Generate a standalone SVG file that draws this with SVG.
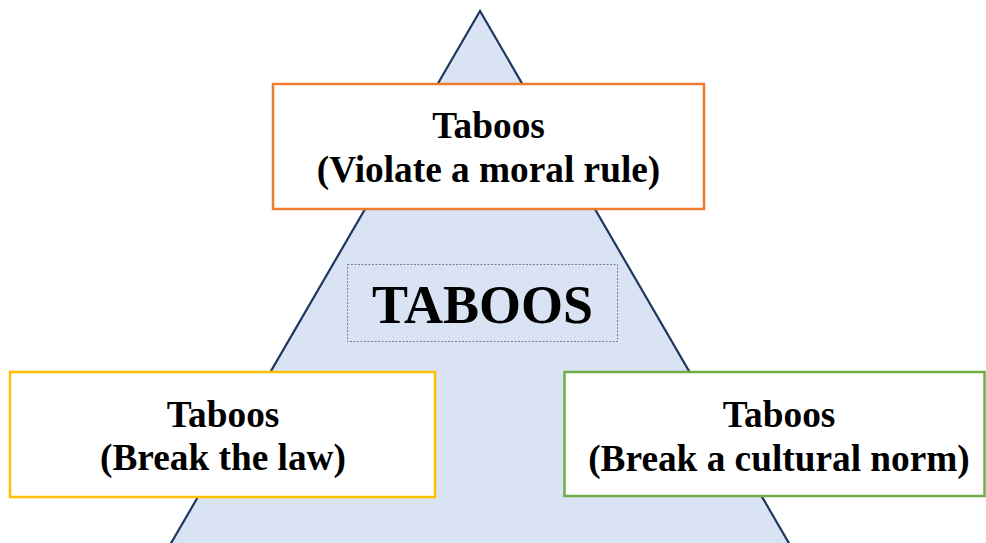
<svg xmlns="http://www.w3.org/2000/svg" width="986" height="543" viewBox="0 0 986 543">
<style>
.box{fill:#ffffff;stroke-width:2.5}
.t{font-family:"Liberation Serif","Times New Roman",serif;font-weight:bold;font-size:37.3px;fill:#000;text-anchor:middle}
</style>
<rect width="986" height="543" fill="#ffffff"/>
<g id="pyramid">
<polygon points="480,11 170,545 790,545" fill="#DAE3F3" stroke="#1F3763" stroke-width="2.2" stroke-linejoin="miter"/>
</g>
<g id="center-label">
<rect x="347.5" y="264.5" width="270" height="77" fill="none" stroke="#808080" stroke-width="1" stroke-dasharray="2,1.5"/>
<text x="482.5" y="323" class="t" style="font-size:54px">TABOOS</text>
</g>
<g id="moral">
<rect class="box" x="273" y="84" width="431" height="125" stroke="#ED7D31"/>
<text class="t" x="488.5" y="138">Taboos</text>
<text class="t" x="488.5" y="182">(Violate a moral rule)</text>
</g>
<g id="law">
<rect class="box" x="10" y="372" width="425" height="125" stroke="#FFC000"/>
<text class="t" x="223" y="427">Taboos</text>
<text class="t" x="223" y="470">(Break the law)</text>
</g>
<g id="cultural">
<rect class="box" x="564.5" y="372" width="420" height="124" stroke="#70AD47"/>
<text class="t" x="779" y="427">Taboos</text>
<text class="t" x="779" y="471">(Break a cultural norm)</text>
</g>
<g id="connectors"></g>
</svg>
